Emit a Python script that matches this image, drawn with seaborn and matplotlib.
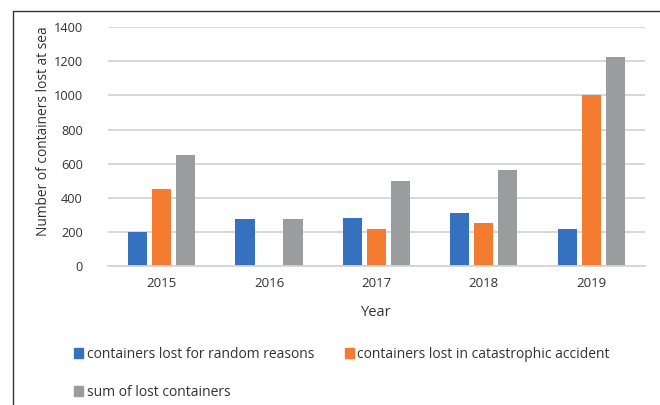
import pandas as pd
import seaborn as sns
import matplotlib.pyplot as plt
from matplotlib.lines import Line2D

years = ["2015", "2016", "2017", "2018", "2019"]
random_lost = [199, 274, 281, 313, 217]
catastrophic_lost = [450, 0, 217, 254, 1004]
sum_lost = [650, 274, 500, 563, 1224]

series_names = [
    "containers lost for random reasons",
    "containers lost in catastrophic accident",
    "sum of lost containers",
]
colors = ["#3571BE", "#F47C30", "#9B9C9E"]

df = pd.DataFrame({
    "Year": years * 3,
    "Count": random_lost + catastrophic_lost + sum_lost,
    "Series": [series_names[0]] * 5 + [series_names[1]] * 5 + [series_names[2]] * 5,
})

sns.set_style("white")
plt.rcParams["font.family"] = ["Open Sans", "DejaVu Sans"]

fig = plt.figure(figsize=(6.6, 4.05), dpi=100)
ax = fig.add_axes([0.1636, 0.343, 0.8134, 0.590])

sns.barplot(data=df, x="Year", y="Count", hue="Series", palette=colors,
            width=0.67, gap=0.2, linewidth=0, saturation=1, ax=ax, legend=False)

ax.set_ylim(0, 1400)
ax.set_yticks(range(0, 1401, 200))
ax.yaxis.grid(True, color="#D4D4D4", linewidth=1.3)
ax.set_axisbelow(True)
for side in ["top", "right", "left"]:
    ax.spines[side].set_visible(False)
ax.spines["bottom"].set_color("#D4D4D4")
ax.spines["bottom"].set_linewidth(1.3)
ax.tick_params(axis="y", length=0, pad=18, labelsize=9.2, labelcolor="#333333")
ax.tick_params(axis="x", length=0, pad=8, labelsize=9.5, labelcolor="#333333")
ax.set_xlabel("Year", fontsize=10.5, color="#333333", labelpad=11)
ax.set_ylabel("Number of containers lost at sea", fontsize=9.9, color="#333333",
              labelpad=2, y=0.565)

# reorder so matplotlib's column filling gives rows: random | catastrophic / sum
order = [0, 2, 1]
handles = [plt.Rectangle((0, 0), 1, 1, color=colors[i]) for i in order]
labels = [series_names[i] for i in order]
fig.legend(handles, labels, loc="upper left", bbox_to_anchor=(0.104, 0.157),
           ncol=2, frameon=False, fontsize=10, handlelength=0.65, handleheight=0.65,
           handletextpad=0.25, columnspacing=2.2, labelspacing=1.65, labelcolor="#333333",
           borderaxespad=0)

# outer frame of the original figure (left and top only)
fig.add_artist(Line2D([0.0197, 0.0197], [0.0, 0.974], color="#333333", linewidth=1))
fig.add_artist(Line2D([0.0197, 1.0], [0.974, 0.974], color="#333333", linewidth=1))

fig.savefig("out.png", dpi=100)
